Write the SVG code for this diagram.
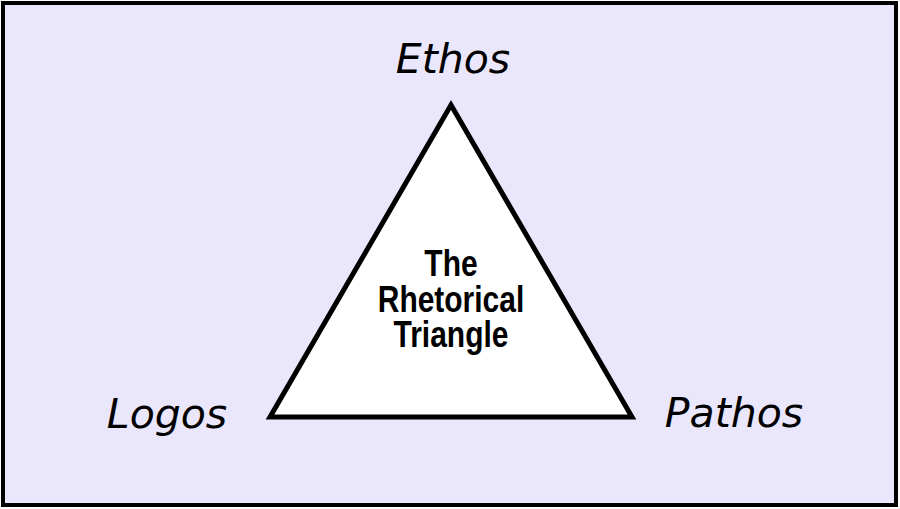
<svg xmlns="http://www.w3.org/2000/svg" width="900" height="509" viewBox="0 0 900 509">
  <style>
    .lbl { font-family: "DejaVu Sans", "Noto Sans", sans-serif; font-style: italic; font-size: 41px; fill: #000; text-anchor: middle; }
    .title { font-family: "Liberation Sans", Arial, sans-serif; font-weight: bold; font-size: 37px; fill: #000; text-anchor: middle; }
  </style>
  <rect id="frame" x="3" y="3" width="893" height="502" fill="#eae7fd" stroke="#000" stroke-width="4"/>
  <g id="connectors"></g>
  <g id="triangle">
    <polygon points="451,105 270,417 632,417" fill="#fff" stroke="#000" stroke-width="5" stroke-linejoin="miter"/>
    <g transform="translate(451,0) scale(0.81,1)">
      <text class="title" x="0" y="276">The</text>
      <text class="title" x="0" y="312">Rhetorical</text>
      <text class="title" x="0" y="347">Triangle</text>
    </g>
  </g>
  <g id="ethos"><text class="lbl" x="453" y="73">Ethos</text></g>
  <g id="logos"><text class="lbl" x="167" y="428">Logos</text></g>
  <g id="pathos"><text class="lbl" x="734" y="427">Pathos</text></g>
</svg>
